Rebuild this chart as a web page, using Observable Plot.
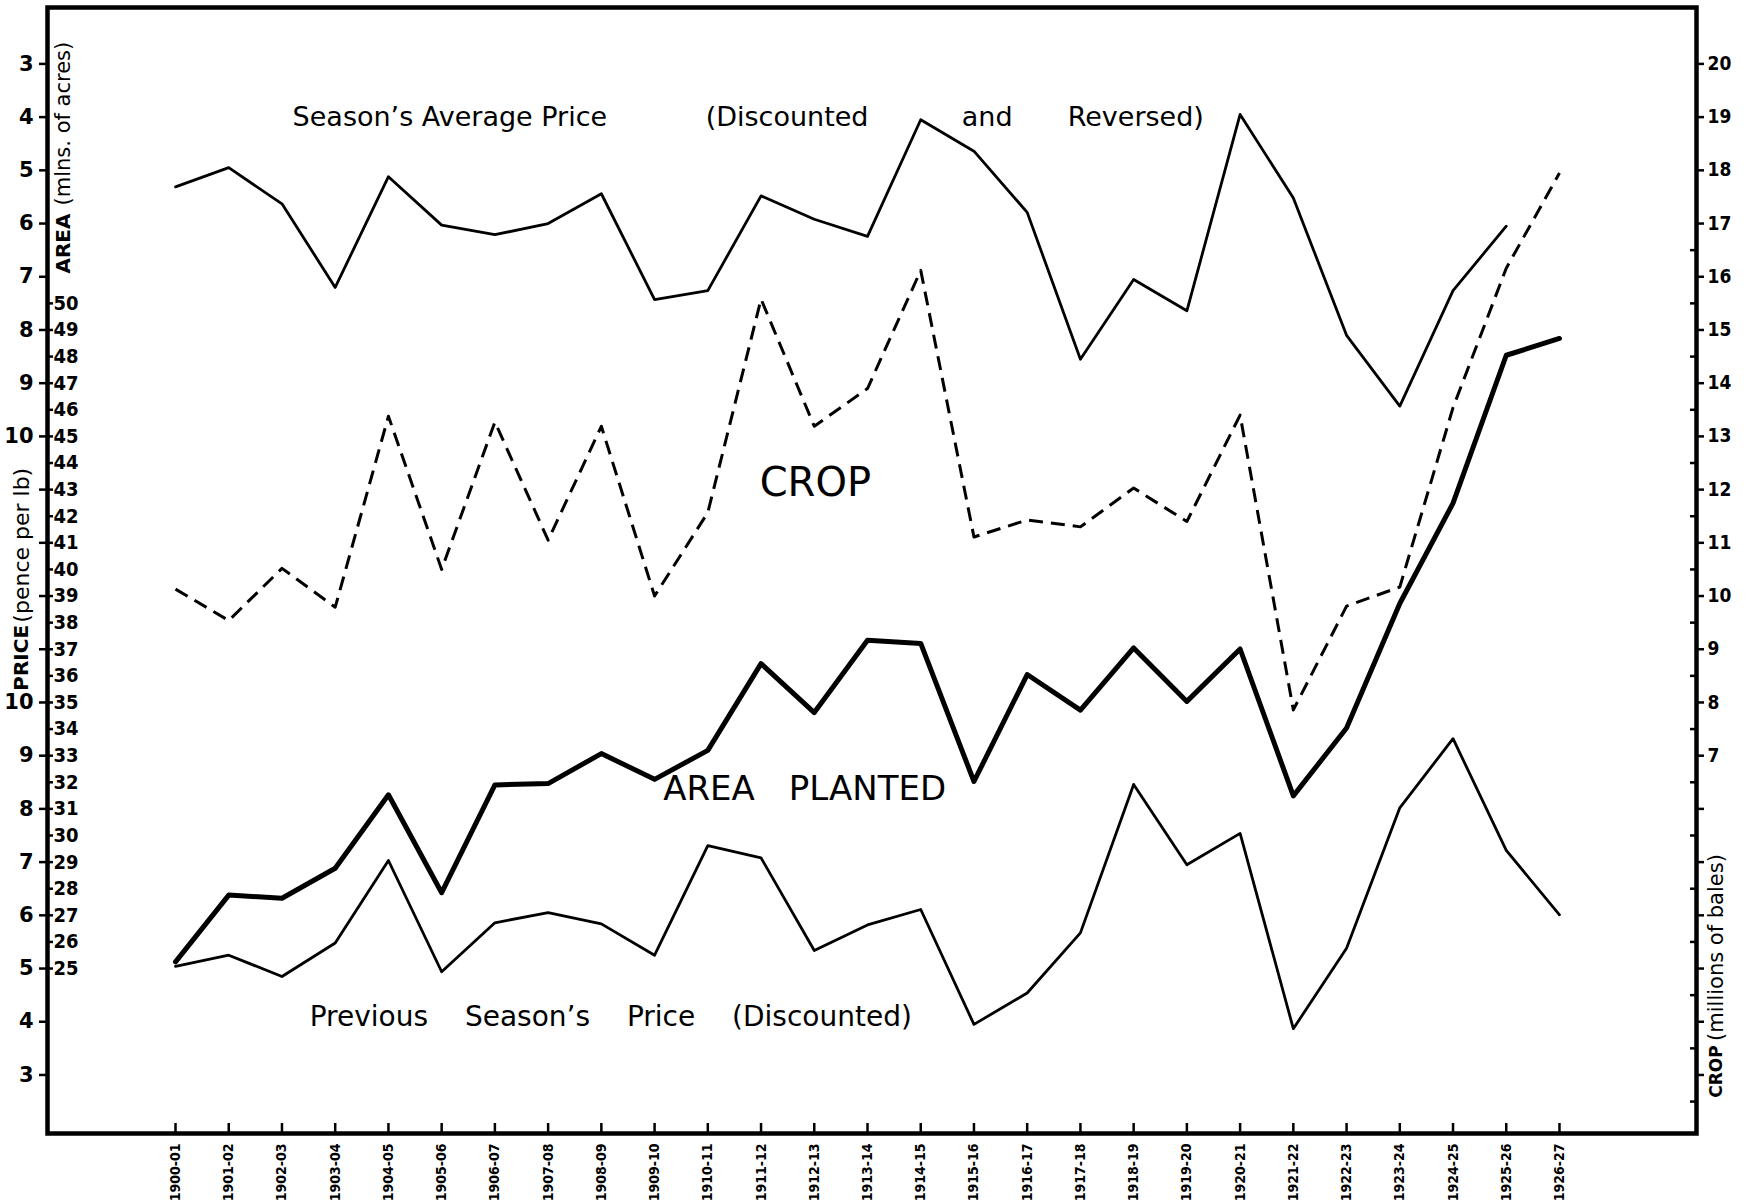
<!DOCTYPE html>
<html>
<head>
<meta charset="utf-8">
<script src="https://cdn.jsdelivr.net/npm/d3@7"></script>
<script src="https://cdn.jsdelivr.net/npm/@observablehq/plot@0.6"></script>
<style>
  html, body { margin: 0; padding: 0; background: #fff; }
  #chart svg { display: block; }
</style>
</head>
<body>
<div id="chart"></div>
<script>
// ---- categories (x tick labels) ----
const seasons = ["1900-01","1901-02","1902-03","1903-04","1904-05","1905-06","1906-07",
  "1907-08","1908-09","1909-10","1910-11","1911-12","1912-13","1913-14","1914-15",
  "1915-16","1916-17","1917-18","1918-19","1919-20","1920-21","1921-22","1922-23",
  "1923-24","1924-25","1925-26","1926-27"];

// Season's average price, discounted (pence per lb) – plotted reversed, 1900-01 .. 1925-26
const avgPrice = [5.31, 4.95, 5.63, 7.20, 5.12, 6.03, 6.21, 6.00, 5.44, 7.43, 7.26, 5.48, 5.92,
  6.24, 4.05, 4.64, 5.79, 8.55, 7.05, 7.64, 3.95, 5.52, 8.10, 9.43, 7.26, 6.05];

// Crop (millions of bales), 1900-01 .. 1926-27
const crop = [10.13, 9.54, 10.52, 9.79, 13.38, 10.50, 13.27, 11.05, 13.19, 10.00, 11.57, 15.58,
  13.19, 13.90, 16.12, 11.11, 11.43, 11.30, 12.03, 11.40, 13.40, 7.86, 9.81, 10.17, 13.54, 16.16, 17.95];

// Area planted (millions of acres), 1900-01 .. 1926-27
const area = [25.25, 27.76, 27.64, 28.77, 31.53, 27.85, 31.90, 31.95, 33.08, 32.11, 33.20, 36.46,
  34.62, 37.34, 37.22, 32.03, 36.05, 34.71, 37.05, 35.04, 37.01, 31.49, 34.04, 38.72, 42.49, 48.05, 48.68];

// Previous season's price, discounted (pence per lb), 1900-01 .. 1926-27
const prevPrice = [5.04, 5.25, 4.85, 5.48, 7.03, 4.94, 5.86, 6.05, 5.84, 5.25, 7.31, 7.08, 5.34,
  5.82, 6.11, 3.95, 4.54, 5.67, 8.46, 6.95, 7.54, 3.87, 5.38, 8.02, 9.32, 7.22, 6.01];

// ---- tick values ----
const priceTicksTop = [3, 4, 5, 6, 7, 8, 9, 10, 11, 12, 13, 14];   // reversed scale (labels 3..10)
const priceTicksBottom = [3, 4, 5, 6, 7, 8, 9, 10];                // previous season's price
const priceLabelMax = 10;
const areaTicks = d3.range(25, 51);                                 // 25 .. 50
const cropTicks = d3.range(1, 21);                                  // 1 .. 20
const cropMinorTicks = d3.range(0.5, 17, 1);
const cropLabelMin = 7;

// ---- dual-axis alignment: every series is mapped onto the crop (millions of bales) axis ----
const avgToY = d3.scaleLinear([3, 10], [20, 13]);      // reversed
const prevToY = d3.scaleLinear([3, 10], [1, 8]);
const areaToY = d3.scaleLinear([25, 50], [3, 15.5]);

const idx = (d, i) => i;
const sans = "DejaVu Sans";
const cond = "DejaVu Sans Condensed";

const chart = Plot.plot({
  width: 1754,
  height: 1204,
  marginLeft: 47,
  marginRight: 58,
  marginTop: 7,
  marginBottom: 71,
  style: { fontFamily: sans, color: "#000", background: "#fff", overflow: "visible" },
  x: { domain: [-2.405, 28.574], axis: null },
  y: { domain: [-0.10, 21.06], axis: null },
  marks: [
    // frame
    Plot.frame({ strokeWidth: 4.5, stroke: "#000" }),

    // bottom axis: inner ticks + rotated season labels
    Plot.axisX(d3.range(seasons.length), { anchor: "bottom", tickSize: 10, dy: -10, strokeWidth: 2.5, tickFormat: () => "", label: null }),
    Plot.axisX(d3.range(seasons.length), { anchor: "bottom", tickSize: 0, tickPadding: 10, tickRotate: -90,
      tickFormat: i => seasons[i], fontSize: 14, fontWeight: "bold", fontFamily: cond, label: null }),

    // left axis, outer: price (pence per lb)
    Plot.axisY(priceTicksTop.map(p => avgToY(p)), { anchor: "left", tickSize: 8, tickPadding: 6, strokeWidth: 2.5,
      tickFormat: c => { const p = Math.round(avgToY.invert(c)); return p <= priceLabelMax ? p : ""; },
      fontSize: 21, fontWeight: "bold", fontFamily: sans, label: null }),
    Plot.axisY(priceTicksBottom.map(p => prevToY(p)), { anchor: "left", tickSize: 8, tickPadding: 6, strokeWidth: 2.5,
      tickFormat: c => Math.round(prevToY.invert(c)),
      fontSize: 21, fontWeight: "bold", fontFamily: sans, label: null }),

    // left axis, inner: area (mlns. of acres)
    Plot.axisY(areaTicks.map(a => areaToY(a)), { anchor: "right", frameAnchor: "left", tickSize: 5, tickPadding: 1, strokeWidth: 2.5,
      tickFormat: c => Math.round(areaToY.invert(c)),
      fontSize: 20, fontWeight: "bold", fontFamily: cond, label: null }),

    // right axis: crop (millions of bales)
    Plot.axisY(cropTicks, { anchor: "right", tickSize: 7, tickPadding: 4, strokeWidth: 2.5,
      tickFormat: c => c >= cropLabelMin ? c : "",
      fontSize: 19, fontWeight: "bold", fontFamily: cond, label: null }),
    Plot.axisY(cropMinorTicks, { anchor: "right", tickSize: 7, dx: -7, strokeWidth: 2.5, tickFormat: () => "", label: null }),

    // series
    Plot.line(avgPrice, { x: idx, y: d => avgToY(d), stroke: "#000", strokeWidth: 2.8 }),
    Plot.line(crop, { x: idx, y: d => d, stroke: "#000", strokeWidth: 3, strokeDasharray: "14,8", strokeLinecap: "butt" }),
    Plot.line(area, { x: idx, y: d => areaToY(d), stroke: "#000", strokeWidth: 5 }),
    Plot.line(prevPrice, { x: idx, y: d => prevToY(d), stroke: "#000", strokeWidth: 2.8 }),

    // series labels
    Plot.text(["Season\u2019s Average Price"], { x: 2.2, y: 19, text: d => d, textAnchor: "start", fontSize: 27, fill: "#000" }),
    Plot.text(["(Discounted"], { x: 9.96, y: 19, text: d => d, textAnchor: "start", fontSize: 27, fill: "#000" }),
    Plot.text(["and"], { x: 14.77, y: 19, text: d => d, textAnchor: "start", fontSize: 27, fill: "#000" }),
    Plot.text(["Reversed)"], { x: 16.76, y: 19, text: d => d, textAnchor: "start", fontSize: 27, fill: "#000" }),
    Plot.text(["CROP"], { x: 12.02, y: 12.13, text: d => d, fontSize: 40, fill: "#000" }),
    Plot.text(["AREA\u2003PLANTED"], { x: 11.82, y: 6.38, text: d => d, fontSize: 34, fill: "#000" }),
    Plot.text(["Previous\u2003 Season\u2019s\u2003 Price\u2003 (Discounted)"], { x: 2.52, y: 2.08, text: d => d, textAnchor: "start", fontSize: 28, fill: "#000" }),

    // axis titles (rotated)
    Plot.text(["AREA"], { x: -2.10, y: 16.06, text: d => d, rotate: -90, textAnchor: "start", fontSize: 20, fontWeight: "bold", fill: "#000" }),
    Plot.text(["(mlns. of acres)"], { x: -2.10, y: 17.34, text: d => d, rotate: -90, textAnchor: "start", fontSize: 21, fill: "#000" }),
    Plot.text(["PRICE"], { x: -2.89, y: 8.22, text: d => d, rotate: -90, textAnchor: "start", fontSize: 20, fontWeight: "bold", fill: "#000" }),
    Plot.text(["(pence per lb)"], { x: -2.89, y: 9.50, text: d => d, rotate: -90, textAnchor: "start", fontSize: 22, fill: "#000" }),
    Plot.text(["CROP"], { x: 28.95, y: 0.57, text: d => d, rotate: -90, textAnchor: "start", fontSize: 17, fontWeight: "bold", fill: "#000" }),
    Plot.text(["(millions of bales)"], { x: 28.95, y: 1.64, text: d => d, rotate: -90, textAnchor: "start", fontSize: 21, fill: "#000" })
  ]
});

document.getElementById("chart").appendChild(chart);
</script>
</body>
</html>
